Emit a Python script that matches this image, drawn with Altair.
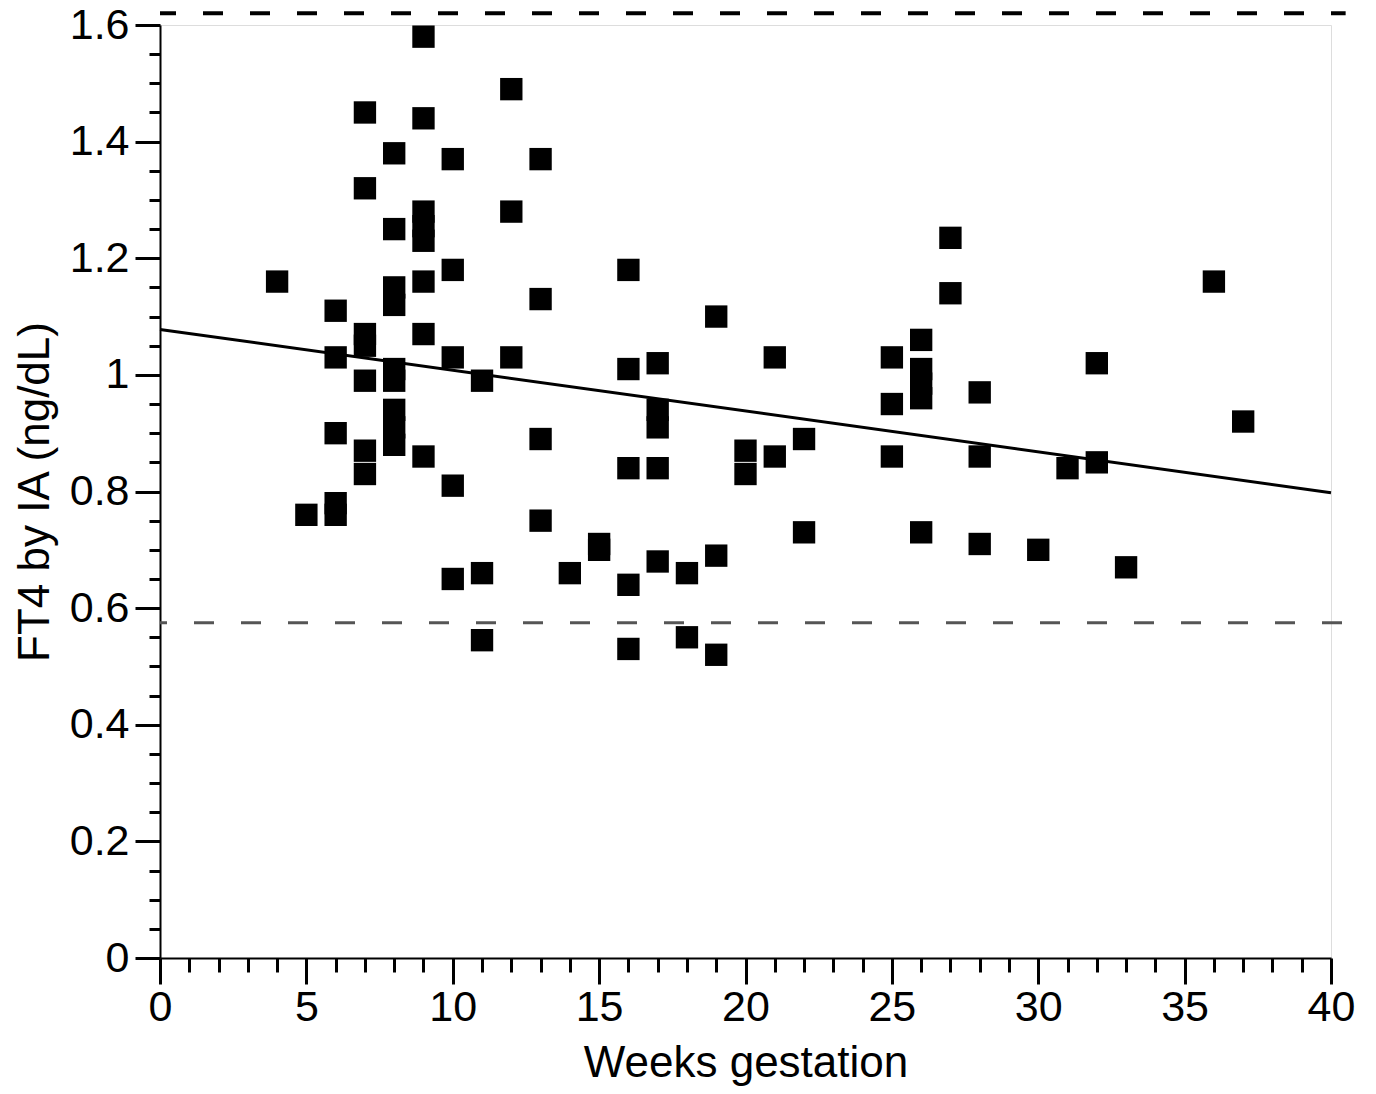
import altair as alt
import pandas as pd

# ---- data ----
weeks = [4, 5,
         6, 6, 6, 6, 6,
         7, 7, 7, 7, 7, 7, 7,
         8, 8, 8, 8, 8, 8, 8, 8, 8,
         9, 9, 9, 9, 9, 9, 9, 9,
         10, 10, 10, 10, 10,
         11, 11, 11,
         12, 12, 12,
         13, 13, 13, 13,
         14, 15, 15,
         16, 16, 16, 16, 16,
         17, 17, 17, 17, 17,
         18, 18,
         19, 19, 19,
         20, 20,
         21, 21,
         22, 22,
         25, 25, 25,
         26, 26, 26, 26, 26,
         27, 27,
         28, 28, 28,
         30, 31, 32, 32, 33, 36, 37]
ft4 = [1.16, 0.76,
       1.11, 1.03, 0.90, 0.78, 0.76,
       1.45, 1.32, 1.07, 1.05, 0.99, 0.87, 0.83,
       1.38, 1.25, 1.15, 1.12, 1.01, 0.99, 0.94, 0.91, 0.88,
       1.58, 1.44, 1.28, 1.255, 1.23, 1.16, 1.07, 0.86,
       1.37, 1.18, 1.03, 0.81, 0.65,
       0.99, 0.66, 0.545,
       1.49, 1.28, 1.03,
       1.37, 1.13, 0.89, 0.75,
       0.66, 0.71, 0.70,
       1.18, 1.01, 0.84, 0.64, 0.53,
       1.02, 0.94, 0.91, 0.84, 0.68,
       0.66, 0.55,
       1.10, 0.69, 0.52,
       0.87, 0.83,
       1.03, 0.86,
       0.89, 0.73,
       1.03, 0.95, 0.86,
       1.06, 1.01, 0.985, 0.96, 0.73,
       1.235, 1.14,
       0.97, 0.86, 0.71,
       0.70, 0.84, 1.02, 0.85, 0.67, 1.16, 0.92]

fit_weeks = [0, 40]
fit_ft4 = [1.078, 0.798]

upper_ref = [1.62]
lower_ref = [0.575]
ref_from = [0]
ref_to = [40.5]

x_tick_values = list(range(0, 41))
y_tick_values = [round(i * 0.05, 2) for i in range(0, 33)]

points = pd.DataFrame({"weeks": weeks, "ft4": ft4})
fit = pd.DataFrame({"weeks": fit_weeks, "ft4": fit_ft4})
upper = pd.DataFrame({"weeks": ref_from, "weeks2": ref_to, "ft4": upper_ref})
lower = pd.DataFrame({"weeks": ref_from, "weeks2": ref_to, "ft4": lower_ref})

FONT = "Liberation Sans"

x_scale = alt.Scale(domain=[0, 40], nice=False, zero=False)
y_scale = alt.Scale(domain=[0, 1.6], nice=False, zero=False)

x_axis = alt.Axis(
    values=x_tick_values,
    tickCount=200,
    title="Weeks gestation",
    grid=False,
    labelExpr="datum.value % 5 === 0 ? format(datum.value, '~g') : ''",
    tickSize={"condition": {"test": "datum.value % 5 === 0", "value": 26}, "value": 14},
    tickWidth=3,
    tickColor="black",
    domainColor="black",
    domainWidth=2,
    labelFont=FONT,
    labelFontSize=43,
    labelColor="black",
    labelPadding=2,
    labelFlush=False,
    labelOverlap=False,
    titleFont=FONT,
    titleFontSize=44,
    titleFontWeight="normal",
    titleColor="black",
    titlePadding=12,
)

y_axis = alt.Axis(
    values=y_tick_values,
    tickCount=200,
    title="FT4 by IA (ng/dL)",
    grid=False,
    labelExpr="abs(datum.value * 5 - round(datum.value * 5)) < 0.001 ? format(datum.value, '~g') : ''",
    tickSize={"condition": {"test": "abs(datum.value * 5 - round(datum.value * 5)) < 0.001", "value": 25}, "value": 11},
    tickWidth=3,
    tickColor="black",
    domainColor="black",
    domainWidth=2,
    labelFont=FONT,
    labelFontSize=43,
    labelColor="black",
    labelPadding=6,
    labelFlush=False,
    labelOverlap=False,
    titleFont=FONT,
    titleFontSize=44,
    titleFontWeight="normal",
    titleColor="black",
    titlePadding=12,
)

upper_rule = alt.Chart(upper).mark_rule(
    color="black", strokeWidth=4, strokeDash=[20, 27], strokeDashOffset=4
).encode(
    x=alt.X("weeks:Q", scale=x_scale),
    x2="weeks2:Q",
    y=alt.Y("ft4:Q", scale=y_scale),
)

lower_rule = alt.Chart(lower).mark_rule(
    color="#555555", strokeWidth=3, strokeDash=[20, 27], strokeDashOffset=13
).encode(
    x=alt.X("weeks:Q", scale=x_scale),
    x2="weeks2:Q",
    y=alt.Y("ft4:Q", scale=y_scale),
)

fit_line = alt.Chart(fit).mark_line(color="black", strokeWidth=3).encode(
    x=alt.X("weeks:Q", scale=x_scale),
    y=alt.Y("ft4:Q", scale=y_scale),
)

pts = alt.Chart(points).mark_square(size=500, color="black", opacity=1).encode(
    x=alt.X("weeks:Q", scale=x_scale, axis=x_axis),
    y=alt.Y("ft4:Q", scale=y_scale, axis=y_axis),
)

chart = alt.layer(upper_rule, lower_rule, fit_line, pts).properties(
    width=1171,
    height=933,
    autosize=alt.AutoSizeParams(type="none"),
    padding={"left": 152, "top": 17, "right": 29, "bottom": 128},
).configure_view(stroke=None).configure(background="white")

chart.save("out.html", embed_options={"renderer": "svg", "actions": False})
